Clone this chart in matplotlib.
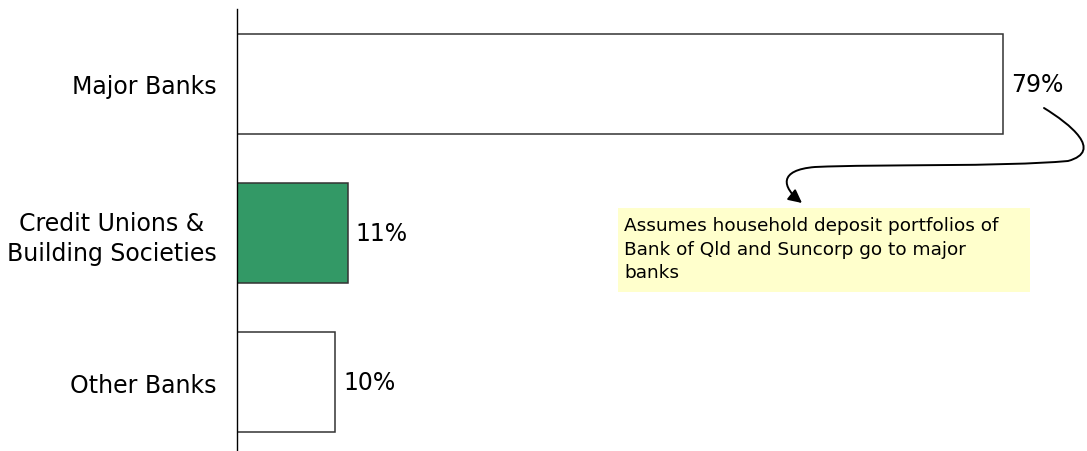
import matplotlib.pyplot as plt
from matplotlib.patches import Rectangle, FancyArrowPatch
from matplotlib.path import Path

# data
categories = ['Major Banks', 'Credit Unions &\nBuilding Societies', 'Other Banks']
shares = [79, 11.4, 10.1]
bar_colors = ['white', '#339966', 'white']
note = 'Assumes household deposit portfolios of\nBank of Qld and Suncorp go to major\nbanks'

W, H = 1087, 452
fig = plt.figure(figsize=(W / 100, H / 100), dpi=100)

def fx(x):
    return x / W

def fy(y):
    return 1 - y / H

ax = fig.add_axes([fx(237), 0, fx(1087) - fx(237), fy(10)])
pos = list(range(len(categories)))
ax.barh(pos, shares, height=0.67, color=bar_colors, edgecolor='#333333', linewidth=1.1)
ax.set_xlim(0, 850 / 9.7)
ax.set_ylim(2.463, -0.503)
ax.set_yticks(pos)
ax.set_yticklabels(categories, fontsize=17, multialignment='center', linespacing=1.3)
ax.tick_params(axis='y', length=0, pad=14.4)
ax.set_xticks([])
for s in ['top', 'right', 'bottom']:
    ax.spines[s].set_visible(False)
ax.spines['left'].set_linewidth(1)

for p, v in zip(pos, shares):
    ax.annotate(f'{v:.0f}%', (v, p), xytext=(5.8, 0), textcoords='offset points',
                va='center', ha='left', fontsize=17)

# note box
fig.add_artist(Rectangle((fx(618), fy(293)), fx(1030) - fx(618), fy(209) - fy(293),
                         transform=fig.transFigure, facecolor='#FFFFCC', edgecolor='none'))
fig.text(fx(624), fy(217), note, fontsize=13.3, va='top', ha='left', linespacing=1.4)

# curved arrow from 79% label to the note
pts = [(1044, 109), (1070, 125), (1104, 152), (1068, 162),
       (1000, 168), (880, 165), (815, 168),
       (778, 171), (782, 188), (802, 204)]
codes = [Path.MOVETO] + [Path.CURVE4] * 9
path = Path([(fx(x), fy(y)) for x, y in pts], codes)
arrow = FancyArrowPatch(path=path, arrowstyle='-|>', mutation_scale=20,
                        color='black', linewidth=1.4, transform=fig.transFigure)
fig.add_artist(arrow)

fig.savefig('out.png', dpi=100)
